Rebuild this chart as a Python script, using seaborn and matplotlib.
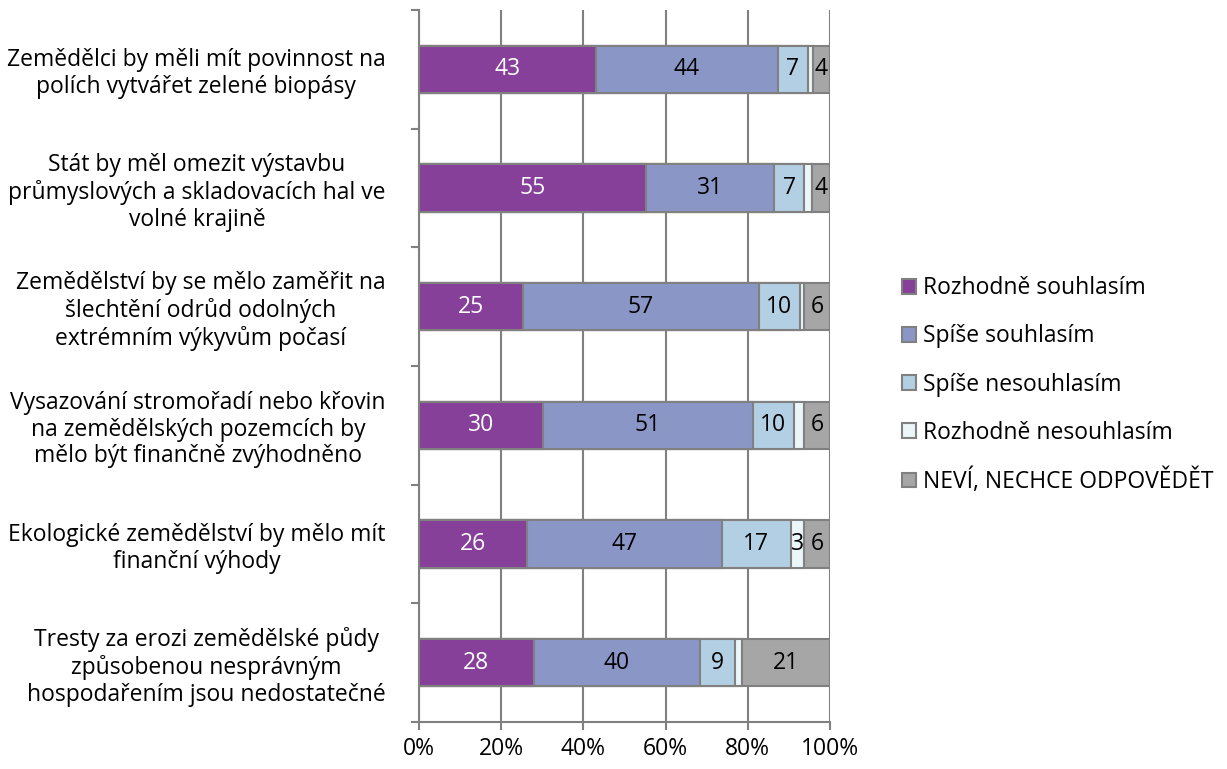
import numpy as np
import pandas as pd
import matplotlib
matplotlib.use("Agg")
import matplotlib.pyplot as plt
import seaborn as sns
from matplotlib.patches import Patch

categories = [
    "Zemědělci by měli mít povinnost na\npolích vytvářet zelené biopásy",
    "Stát by měl omezit výstavbu\nprůmyslových a skladovacích hal ve\nvolné krajině",
    "Zemědělství by se mělo zaměřit na\nšlechtění odrůd odolných\nextrémním výkyvům počasí",
    "Vysazování stromořadí nebo křovin\nna zemědělských pozemcích by\nmělo být finančně zvýhodněno",
    "Ekologické zemědělství by mělo mít\nfinanční výhody",
    "Tresty za erozi zemědělské půdy\nzpůsobenou nesprávným\nhospodařením jsou nedostatečné",
]
series = ["Rozhodně souhlasím", "Spíše souhlasím", "Spíše nesouhlasím",
          "Rozhodně nesouhlasím", "NEVÍ, NECHCE ODPOVĚDĚT"]
rozhodne_souhlasim = [43.0, 55.1, 25.2, 30.0, 26.2, 27.9]
spise_souhlasim = [44.3, 31.1, 57.4, 51.0, 47.4, 40.4]
spise_nesouhlasim = [7.3, 7.3, 10.0, 9.9, 16.9, 8.6]
rozhodne_nesouhlasim = [1.2, 1.9, 0.9, 2.4, 3.1, 1.7]
nevi = [4.2, 4.4, 6.4, 6.4, 6.4, 21.4]
xticks = [0, 20, 40, 60, 80, 100]
xticklabels = ["0%", "20%", "40%", "60%", "80%", "100%"]

colors = ["#86409A", "#8A96C6", "#B3CFE3", "#EAF6F8", "#A6A6A6"]
text_colors = ["white", "black", "black", "black", "black"]
edge = "#808080"
FS = 16.5

vals = np.array([rozhodne_souhlasim, spise_souhlasim, spise_nesouhlasim,
                 rozhodne_nesouhlasim, nevi], dtype=float)
pct = vals / vals.sum(axis=0) * 100
cum = np.cumsum(pct, axis=0)

sns.set_theme(style="white")
plt.rcParams["font.family"] = ["Open Sans", "DejaVu Sans"]
plt.rcParams["text.color"] = "black"
plt.rcParams["xtick.labelcolor"] = "black"
plt.rcParams["ytick.labelcolor"] = "black"

fig = plt.figure(figsize=(12.27, 7.69), dpi=100)
ax = fig.add_axes([0.3415, 0.061, 0.335, 0.926])

for i in range(len(series) - 1, -1, -1):
    df = pd.DataFrame({"cat": categories, "val": cum[i]})
    sns.barplot(data=df, x="val", y="cat", orient="h", color=colors[i],
                saturation=1, width=0.40, edgecolor=edge, linewidth=1.5,
                ax=ax, zorder=3)

for i in range(len(series)):
    for j in range(len(categories)):
        v = vals[i, j]
        if v < 3:
            continue
        start = cum[i, j] - pct[i, j]
        ax.text(start + pct[i, j] / 2, j, f"{int(round(v))}", ha="center", va="center",
                color=text_colors[i], fontsize=FS, zorder=5)

ax.set_xlim(0, 100)
ax.set_ylim(len(categories) - 0.5, -0.5)
ax.set_xticks(xticks)
ax.set_xticklabels(xticklabels, fontsize=FS)
ax.set_xlabel("")
ax.set_ylabel("")
ax.set_yticks(range(len(categories)))
ax.set_yticklabels(categories, fontsize=FS, multialignment="center", linespacing=1.15)
ax.set_yticks(np.arange(-0.5, len(categories), 1.0), minor=True)
ax.tick_params(axis="y", which="major", length=0, pad=24)
ax.tick_params(axis="y", which="minor", length=6, width=1.5, color=edge, left=True)
ax.tick_params(axis="x", which="major", length=6, width=1.5, color=edge, bottom=True, pad=5)
ax.xaxis.grid(True, color=edge, linewidth=1.5, zorder=0)
ax.yaxis.grid(False)
ax.set_axisbelow(True)
for s in ["top", "right"]:
    ax.spines[s].set_visible(False)
for s in ["left", "bottom"]:
    ax.spines[s].set_color(edge)
    ax.spines[s].set_linewidth(1.5)

handles = [Patch(facecolor=c, edgecolor=edge, linewidth=1.5) for c in colors]
fig.legend(handles, series, loc="center left", bbox_to_anchor=(0.7186, 0.499),
           frameon=False, fontsize=FS, handlelength=0.6, handleheight=0.6,
           handletextpad=0.3, labelspacing=1.05)

fig.savefig("out.png", dpi=100)
